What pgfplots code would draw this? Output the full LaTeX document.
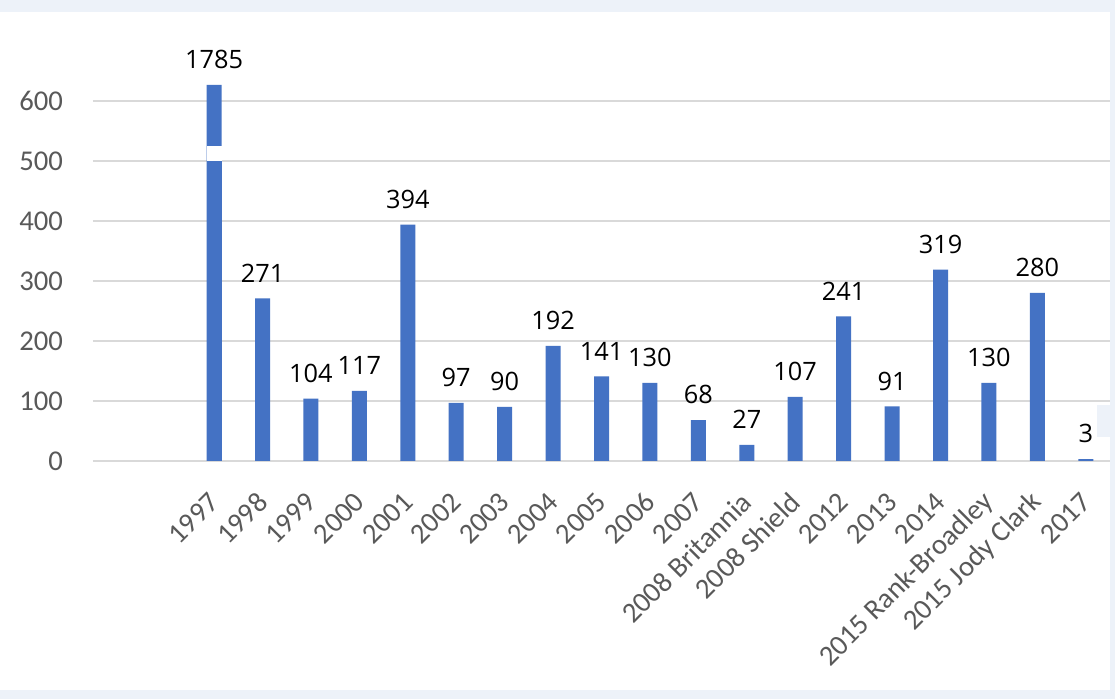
\documentclass[border=0pt]{standalone}
\usepackage{pgfplots}
\pgfplotsset{compat=1.18}
\usepackage{fontspec}
\setmainfont{Carlito}
\newfontfamily\valfont{Open Sans}
\definecolor{barblue}{HTML}{4472C4}
\definecolor{bgblue}{HTML}{EDF2F9}
\definecolor{gridgray}{HTML}{D9D9D9}
\definecolor{ticktext}{HTML}{595959}
\begin{document}
\begin{tikzpicture}[x=1pt,y=1pt]
\fill[bgblue] (0,0) rectangle (836.25,524.25);
\useasboundingbox (0,0) rectangle (836.25,524.25);
\fill[white] (0,6.75) rectangle (832.5,515.25);
\begin{axis}[
  at={(69.75pt,178.5pt)}, anchor=south west,
  scale only axis, width=762.75pt, height=292.5pt,
  xmin=-2.5, xmax=18.5, ymin=0, ymax=650,
  axis line style={draw=none},
  tick style={draw=none},
  /pgf/number format/assume math mode=true,
  ytick={0,100,200,300,400,500,600},
  ymajorgrids, grid style={gridgray, line width=1.4pt},
  xtick={0,...,18},
  xticklabels={1997,1998,1999,2000,2001,2002,2003,2004,2005,2006,2007,2008 Britannia,2008 Shield,2012,2013,2014,2015 Rank-Broadley,2015 Jody Clark,2017},
  tick label style={ticktext, font=\fontsize{21.5}{21.5}\selectfont},
  xticklabel style={xshift=2.5pt, yshift=-25pt, rotate=45, anchor=east},
  yticklabel style={xshift=-19pt},
  clip=false,
]
\addplot[ybar, bar width=11.25pt, fill=barblue, draw=none, bar shift=0pt] coordinates {
(0,627)(1,271)(2,104)(3,117)(4,394)(5,97)(6,90)(7,192)(8,141)(9,130)(10,68)(11,27)(12,107)(13,241)(14,91)(15,319)(16,130)(17,280)(18,3)};
\addplot[ybar, bar width=11.25pt, fill=white, draw=none, bar shift=0pt] coordinates {(0,525)};
\addplot[ybar, bar width=11.25pt, fill=barblue, draw=none, bar shift=0pt] coordinates {(0,500)};
\addplot[draw=none, mark=none, nodes near coords, point meta=explicit symbolic,
  nodes near coords style={font=\valfont\fontsize{19}{19}\selectfont, black, anchor=south, yshift=8.5pt}]
  table[meta=lab, row sep=\\] {
x y lab\\
0 627 1785\\
1 271 271\\
2 104 104\\
3 117 117\\
4 394 394\\
5 97 97\\
6 90 90\\
7 192 192\\
8 141 141\\
9 130 130\\
10 68 68\\
11 27 27\\
12 107 107\\
13 241 241\\
14 91 91\\
15 319 319\\
16 130 130\\
17 280 280\\
18 3 3\\
};
\end{axis}
\fill[bgblue] (822.75,196.5) rectangle (832.5,220.5);
\end{tikzpicture}
\end{document}
